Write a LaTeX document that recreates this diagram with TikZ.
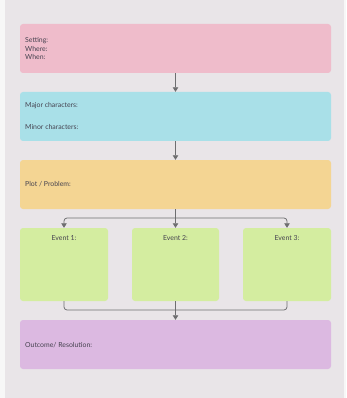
\documentclass[tikz,border=0pt]{standalone}
\usepackage{fontspec}
\setmainfont{Lato}
\usetikzlibrary{arrows.meta}
\definecolor{panel}{HTML}{E9E5E8}
\definecolor{pinkc}{HTML}{EFBCCB}
\definecolor{cyanc}{HTML}{A9E0E8}
\definecolor{orangec}{HTML}{F4D593}
\definecolor{greenc}{HTML}{D4EDA0}
\definecolor{purplec}{HTML}{DCB9E1}
\definecolor{txt}{HTML}{45424F}
\definecolor{conn}{HTML}{6E6E70}
\tikzset{
  box/.style={fill=#1, draw=none, rounded corners=3pt},
  lbl/.style={text=txt, font=\fontsize{6.9}{8.6}\selectfont, align=left, anchor=west, inner sep=0pt},
  clbl/.style={text=txt, font=\fontsize{6.9}{8.6}\selectfont, inner sep=0pt},
  conn/.style={draw=conn, line width=0.75pt, rounded corners=3pt},
  arr/.style={conn, -{Triangle[width=5.5pt,length=4.5pt]}}
}
\begin{document}
\begin{tikzpicture}[x=1pt,y=-1pt]
\useasboundingbox (0,0) rectangle (346,398);
\fill[white!97!black] (0,0) rectangle (346,398);
\fill[panel] (5,0) rectangle (344,398);
% boxes
\path[box=pinkc] (20,24) rectangle (331,73);
\path[box=cyanc] (20,92) rectangle (331,141);
\path[box=orangec] (20,160) rectangle (331,209);
\path[box=greenc] (20,228) rectangle (108,301);
\path[box=greenc] (132,228) rectangle (219,301);
\path[box=greenc] (243,228) rectangle (331,301);
\path[box=purplec] (20,320) rectangle (331,369);
% nodes for connections
\node[inner sep=0pt, minimum width=311pt, minimum height=49pt] (setting) at (175.5,48.5) {};
\node[inner sep=0pt, minimum width=311pt, minimum height=49pt] (chars) at (175.5,116.5) {};
\node[inner sep=0pt, minimum width=311pt, minimum height=49pt] (plot) at (175.5,184.5) {};
\node[inner sep=0pt, minimum width=88pt, minimum height=73pt] (ev1) at (64,264.5) {};
\node[inner sep=0pt, minimum width=87pt, minimum height=73pt] (ev2) at (175.5,264.5) {};
\node[inner sep=0pt, minimum width=88pt, minimum height=73pt] (ev3) at (287,264.5) {};
\node[inner sep=0pt, minimum width=311pt, minimum height=49pt] (outc) at (175.5,344.5) {};
% labels
\node[lbl] (t1) at (25,48.5) {Setting:\\Where:\\When:};
\node[lbl] (t2a) at (25,106) {Major characters:};
\node[lbl] (t2b) at (25,127) {Minor characters:};
\node[lbl] (t3) at (25,184.5) {Plot / Problem:};
\node[clbl] (e1) at (64,238) {Event 1:};
\node[clbl] (e2) at (175.5,238) {Event 2:};
\node[clbl] (e3) at (287,238) {Event 3:};
\node[lbl] (t5) at (25,345) {Outcome/ Resolution:};
% connectors
\draw[arr] (setting.south) -- (chars.north);
\draw[arr] (chars.south) -- (plot.north);
\draw[arr] (plot.south) -- (ev2.north);
\coordinate (split) at (175.5,218);
\draw[arr] (split) -| (ev1.north);
\draw[arr] (split) -| (ev3.north);
\coordinate (merge) at (175.5,310);
\draw[conn] (ev1.south) |- (merge);
\draw[conn] (ev3.south) |- (merge);
\draw[arr] (ev2.south) -- (outc.north);
\end{tikzpicture}
\end{document}
